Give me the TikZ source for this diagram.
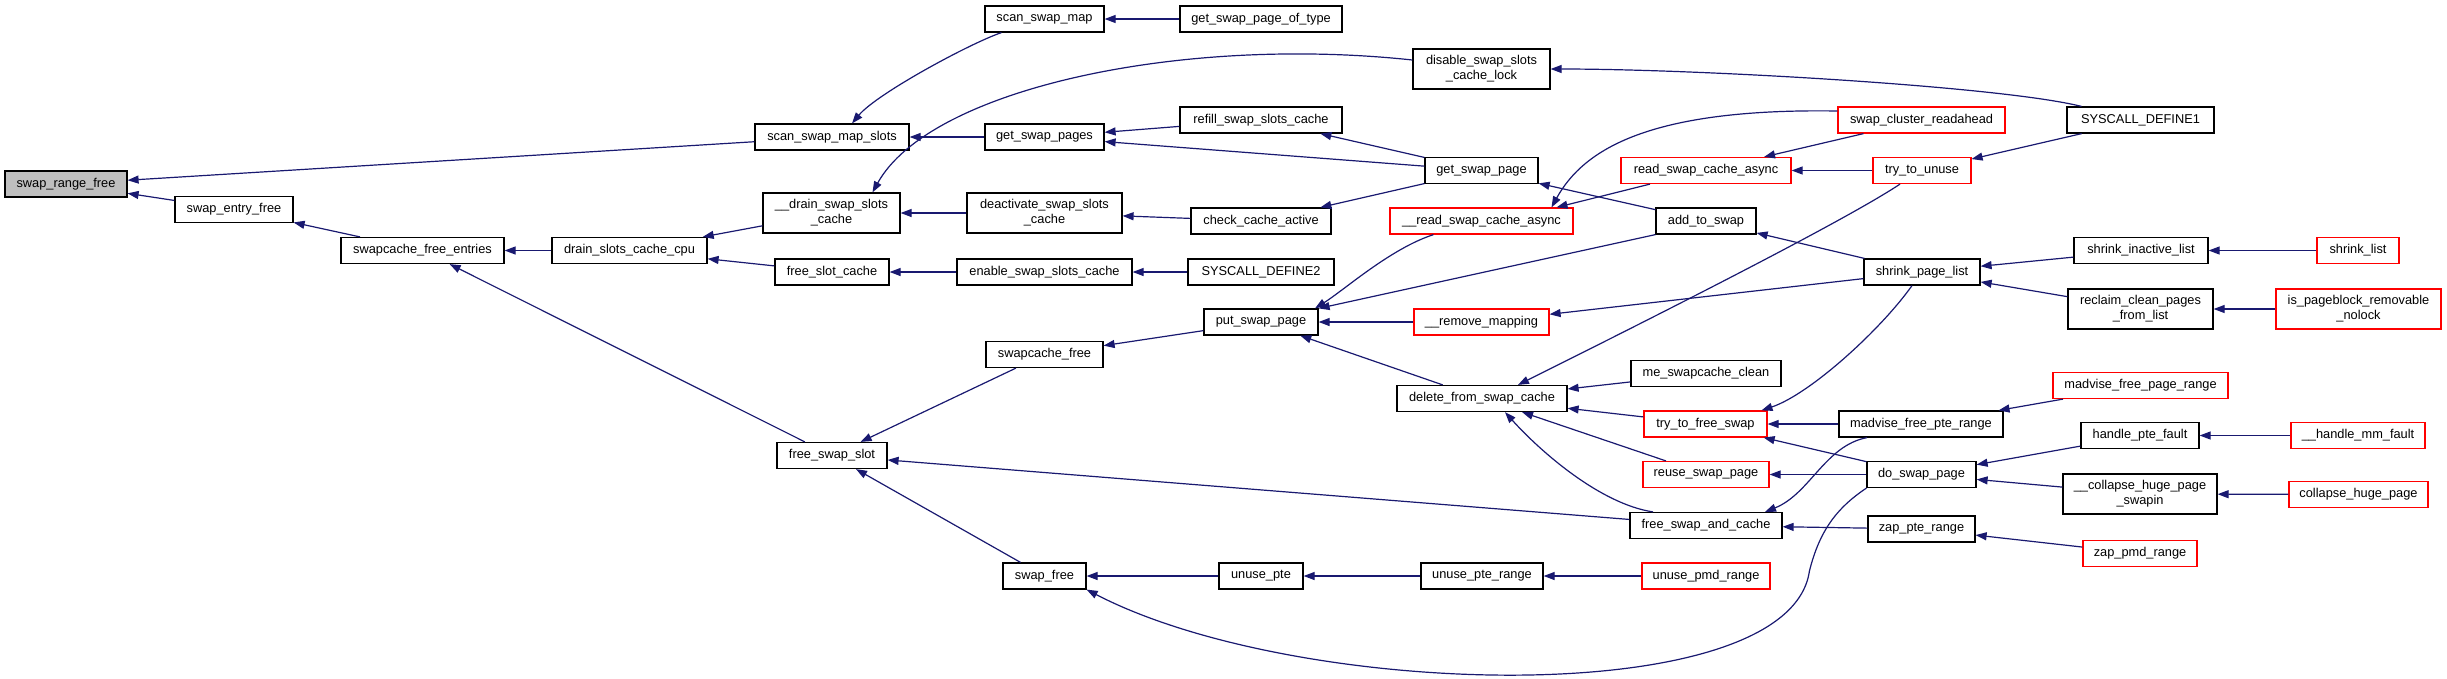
\documentclass[tikz,border=0pt]{standalone}
\usepackage{fontspec}
\setmainfont{Liberation Sans}
\usetikzlibrary{arrows.meta,calc}
\definecolor{rootgray}{HTML}{BFBFBF}
\definecolor{callblue}{HTML}{191970}
\newcommand\dxsize{\fontsize{12.8}{15}\selectfont}

\begin{document}
\begin{tikzpicture}[x=1pt, y=-1pt,
    fn/.style={draw=black, fill=white, line width=1.2pt, inner sep=0pt, minimum height=26, font=\dxsize},
    fn2/.style={fn, minimum height=40, align=center},
    rfn/.style={fn, draw=red},
    rfn2/.style={fn2, draw=red},
    callarr/.style={draw=callblue, line width=1.2pt, {Triangle[length=11pt,width=8pt]}-}]
    % 画布大小
    \useasboundingbox (0,0) rectangle (2447,678);

    % 根节点和左侧几列
    \node[fn, fill=rootgray, minimum width=122] (srf) at (66,184) {swap\_range\_free};
    \node[fn, minimum width=118] (sef) at (234,209.5) {swap\_entry\_free};
    \node[fn, minimum width=163] (sfe) at (422.5,250.5) {swapcache\_free\_entries};
    \node[fn, minimum width=155] (dscc) at (629.5,250.5) {drain\_slots\_cache\_cpu};
    \node[fn, minimum width=154] (ssms) at (832,137) {scan\_swap\_map\_slots};
    \node[fn2, minimum width=137] (dssc) at (831.5,213) {\_\_drain\_swap\_slots\\\_cache};
    \node[fn, minimum width=114] (fsc) at (832,272) {free\_slot\_cache};
    \node[fn, minimum width=110] (fss) at (832,455.5) {free\_swap\_slot};

    % 中间几列
    \node[fn, minimum width=119] (ssm) at (1044.5,19) {scan\_swap\_map};
    \node[fn, minimum width=162] (gspot) at (1261,19) {get\_swap\_page\_of\_type};
    \node[fn2, minimum width=137] (dsscl) at (1481.5,69) {disable\_swap\_slots\\\_cache\_lock};
    \node[fn, minimum width=119] (gsps) at (1044.5,137) {get\_swap\_pages};
    \node[fn, minimum width=162] (rssc) at (1261,120) {refill\_swap\_slots\_cache};
    \node[fn, minimum width=113] (gsp) at (1481.5,170.5) {get\_swap\_page};
    \node[fn2, minimum width=155] (dasc) at (1044.5,213) {deactivate\_swap\_slots\\\_cache};
    \node[fn, minimum width=140] (cca) at (1261,221) {check\_cache\_active};
    \node[rfn, minimum width=183] (rsca0) at (1481.5,221) {\_\_read\_swap\_cache\_async};
    \node[fn, minimum width=175] (essc) at (1044.5,272) {enable\_swap\_slots\_cache};
    \node[fn, minimum width=146] (sd2) at (1261,272) {SYSCALL\_DEFINE2};
    \node[fn, minimum width=114] (psp) at (1261,322) {put\_swap\_page};
    \node[rfn, minimum width=135] (rmap) at (1481.5,322) {\_\_remove\_mapping};
    \node[fn, minimum width=117] (scf) at (1044.5,354.5) {swapcache\_free};
    \node[fn, minimum width=170] (dfsc) at (1482,398.5) {delete\_from\_swap\_cache};
    \node[fn, minimum width=83] (sfree) at (1044.5,576) {swap\_free};
    \node[fn, minimum width=84] (upte) at (1261,576) {unuse\_pte};
    \node[fn, minimum width=122] (upr) at (1482,576) {unuse\_pte\_range};

    % 右侧几列
    \node[fn, minimum width=147] (sd1) at (2140.5,120) {SYSCALL\_DEFINE1};
    \node[rfn, minimum width=167] (scr) at (1921.5,120) {swap\_cluster\_readahead};
    \node[rfn, minimum width=170] (rsca) at (1706,170.5) {read\_swap\_cache\_async};
    \node[rfn, minimum width=98] (ttu) at (1922,170.5) {try\_to\_unuse};
    \node[fn, minimum width=100] (ats) at (1706,221) {add\_to\_swap};
    \node[fn, minimum width=116] (spl) at (1922,272) {shrink\_page\_list};
    \node[fn, minimum width=134] (sil) at (2141,250.5) {shrink\_inactive\_list};
    \node[rfn, minimum width=82] (sl) at (2358,250.5) {shrink\_list};
    \node[fn2, minimum width=145] (rcpfl) at (2140.5,309) {reclaim\_clean\_pages\\\_from\_list};
    \node[rfn2, minimum width=165] (ipbrn) at (2358.5,309) {is\_pageblock\_removable\\\_nolock};
    \node[fn, minimum width=150] (msc) at (1706,373.5) {me\_swapcache\_clean};
    \node[rfn, minimum width=175] (mfpgr) at (2140.5,385.5) {madvise\_free\_page\_range};
    \node[rfn, minimum width=123] (ttfs) at (1705.5,424) {try\_to\_free\_swap};
    \node[fn, minimum width=164] (mfptr) at (1921,424) {madvise\_free\_pte\_range};
    \node[fn, minimum width=118] (hpf) at (2140,435.5) {handle\_pte\_fault};
    \node[rfn, minimum width=134] (hmf) at (2358,435.5) {\_\_handle\_mm\_fault};
    \node[rfn, minimum width=126] (rsp) at (1706,474.5) {reuse\_swap\_page};
    \node[fn, minimum width=109] (dsp) at (1921.5,474.5) {do\_swap\_page};
    \node[fn2, minimum width=154] (chps) at (2140,494) {\_\_collapse\_huge\_page\\\_swapin};
    \node[rfn, minimum width=139] (chp) at (2358.5,494.5) {collapse\_huge\_page};
    \node[fn, minimum width=152] (fsac) at (1706,525.5) {free\_swap\_and\_cache};
    \node[fn, minimum width=107] (zpr) at (1921.5,529) {zap\_pte\_range};
    \node[rfn, minimum width=114] (zpmd) at (2140,553.5) {zap\_pmd\_range};
    \node[rfn, minimum width=128] (upmd) at (1706,576) {unuse\_pmd\_range};

    % 调用关系（箭头指向被调用者）
    \draw[callarr] (srf) -- (ssms);
    \draw[callarr] (srf) -- (sef);
    \draw[callarr] (sef) -- (sfe);
    \draw[callarr] (sfe) -- (dscc);
    \draw[callarr] (sfe) -- (fss);
    \draw[callarr] (dscc) -- (dssc);
    \draw[callarr] (dscc) -- (fsc);
    \draw[callarr] ($(ssms.north)+(20,0)$) .. controls +(25,-30) and +(-30,10) .. ($(ssm.south)+(-43,0)$);
    \draw[callarr] (ssms) -- (gsps);
    \draw[callarr] (ssm) -- (gspot);
    \draw[callarr] ($(dssc.north)+(41,0)$) .. controls +(57,-103) and +(-233,-25) .. ($(dsscl.west)+(0,-9)$);
    \draw[callarr] (dssc) -- (dasc);
    \draw[callarr] (fsc) -- (essc);
    \draw[callarr] (essc) -- (sd2);
    \draw[callarr] (gsps) -- (rssc);
    \draw[callarr] (gsps) -- (gsp);
    \draw[callarr] (rssc) -- (gsp);
    \draw[callarr] (dasc) -- (cca);
    \draw[callarr] (cca) -- (gsp);
    \draw[callarr] (dsscl.east) .. controls +(150,0) and +(-80,-20) .. ($(sd1.north)+(-59,0)$);
    \draw[callarr] (gsp) -- (ats);
    \draw[callarr] ($(rsca0.north)+(70,0)$) .. controls +(32,-58) and +(-188,-3) .. ($(scr.west)+(0,-9)$);
    \draw[callarr] ($(rsca0.north)+(75,0)$) -- ($(rsca.south)+(-56,0)$);
    \draw[callarr] (rsca) -- (scr);
    \draw[callarr] (rsca) -- (ttu);
    \draw[callarr] (ttu) -- (sd1);
    \draw[callarr] ($(psp.north)+(54,0)$) .. controls +(30,-19) and +(-43,14) .. ($(rsca0.south)+(-48,0)$);
    \draw[callarr] (psp.north east) -- (ats.south west);
    \draw[callarr] (psp) -- (rmap);
    \draw[callarr] (psp) -- (dfsc);
    \draw[callarr] (rmap) -- (spl);
    \draw[callarr] (ats) -- (spl);
    \draw[callarr] (scf) -- (psp);
    \draw[callarr] (fss) -- (scf);
    \draw[callarr] (fss) -- (fsac);
    \draw[callarr] (fss) -- (sfree);
    \draw[callarr] ($(dfsc.north)+(36,0)$) .. controls +(100,-50) and +(-60,40) .. ($(ttu.south)+(-22,0)$);
    \draw[callarr] (dfsc) -- (msc);
    \draw[callarr] (dfsc) -- (ttfs);
    \draw[callarr] (dfsc) -- (rsp);
    \draw[callarr] ($(dfsc.south)+(23,0)$) .. controls +(35,39) and +(-53,-8) .. ($(fsac.north)+(-53,0)$);
    \draw[callarr] ($(ttfs.north)+(56,0)$) .. controls +(48,-16) and +(-32,45) .. ($(spl.south)+(-10,0)$);
    \draw[callarr] (ttfs) -- (mfptr);
    \draw[callarr] (ttfs) -- (dsp);
    \draw[callarr] (mfptr) -- (mfpgr);
    \draw[callarr] (rsp) -- (dsp);
    \draw[callarr] ($(fsac.north)+(59,0)$) .. controls +(45,-18) and +(-42,8) .. ($(mfptr.south)+(-54,0)$);
    \draw[callarr] (fsac) -- (zpr);
    \draw[callarr] (zpr) -- (zpmd);
    \draw[callarr] (dsp) -- (hpf);
    \draw[callarr] (dsp) -- (chps);
    \draw[callarr] (hpf) -- (hmf);
    \draw[callarr] (chps) -- (chp);
    \draw[callarr] (spl) -- (sil);
    \draw[callarr] (spl) -- (rcpfl);
    \draw[callarr] (sil) -- (sl);
    \draw[callarr] (rcpfl) -- (ipbrn);
    \draw[callarr] (sfree) -- (upte);
    \draw[callarr] (sfree.south east) .. controls +(214,111) and +(-20,140) .. ($(dsp.south west)+(-57,83)$) .. controls +(10,-40) and +(-30,20) .. (dsp.south west);
    \draw[callarr] (upte) -- (upr);
    \draw[callarr] (upr) -- (upmd);
\end{tikzpicture}
\end{document}
